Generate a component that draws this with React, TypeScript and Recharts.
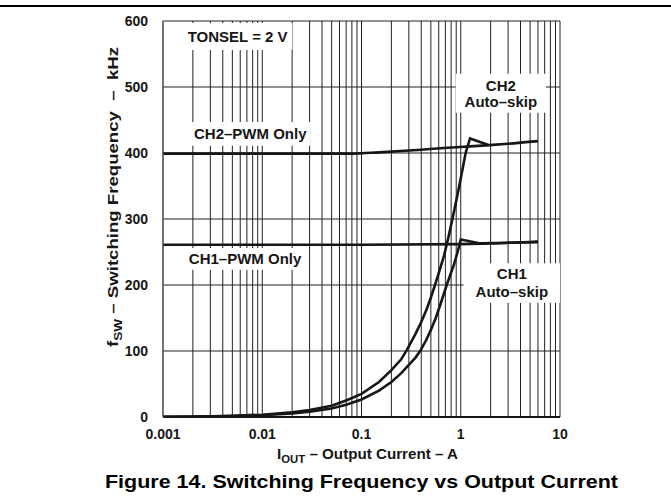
import { LineChart, Line, XAxis, YAxis, CartesianGrid, ReferenceArea } from "recharts";

// log-scale current (A) vs switching frequency (kHz)
const decadeTicks = [0.001, 0.01, 0.1, 1, 10];
const yTicks = [0, 100, 200, 300, 400, 500, 600];

const ch2PwmX = [0.001, 0.01, 0.08, 0.15, 0.4, 0.74, 1.24, 1.97, 3, 6];
const ch2PwmY = [399, 399, 399, 401, 405, 408, 410, 412, 414, 418];

const ch1PwmX = [0.001, 0.01, 0.1, 1, 1.97, 6];
const ch1PwmY = [261, 261, 261, 262, 263, 266];

const ch2SkipX = [0.001, 0.002, 0.003, 0.005, 0.01, 0.02, 0.03, 0.05, 0.07, 0.1, 0.15, 0.2, 0.25, 0.285, 0.35, 0.4, 0.45, 0.5, 0.55, 0.6, 0.68, 0.75, 0.824, 0.92, 1.02, 1.12, 1.24, 1.9];
const ch2SkipY = [0.4, 0.7, 1, 1.8, 3.5, 7, 10.5, 17, 25, 35, 53, 71, 87, 101, 126, 144, 162, 181, 200, 218, 245, 272, 300, 334, 368, 400, 422, 412];

const ch1SkipX = [0.001, 0.003, 0.01, 0.02, 0.03, 0.05, 0.07, 0.1, 0.15, 0.2, 0.25, 0.3, 0.35, 0.394, 0.45, 0.5, 0.56, 0.628, 0.722, 0.85, 0.93, 1.0, 1.58, 6];
const ch1SkipY = [0.3, 0.8, 2.6, 5.3, 8, 13, 18.5, 26.5, 40, 53, 66, 79, 90, 101, 117, 132, 150, 172, 200, 230, 250, 269, 263, 265];

// 1..9 in every decade for the log grid
const gridX: number[] = [];
[0.001, 0.01, 0.1, 1].forEach((d) => {
  for (let k = 1; k <= 9; k++) gridX.push(+(d * k).toPrecision(3));
});
gridX.push(10);

const zip = (xs: number[], ys: number[]) => xs.map((x, i) => ({ x, y: ys[i] }));

const font = "Arial, 'Liberation Sans', Helvetica, sans-serif";
const ink = "#161616";

function BoxText({ viewBox, lines, lh = 16 }: any) {
  const cx = viewBox.x + viewBox.width / 2;
  const cy = viewBox.y + viewBox.height / 2;
  const start = cy - ((lines.length - 1) * lh) / 2;
  return (
    <text x={cx} textAnchor="middle" fontFamily={font} fontWeight="bold" fontSize={15} fill={ink}>
      {lines.map((l: string, i: number) => (
        <tspan key={i} x={cx} y={start + i * lh} dy="0.36em">
          {l}
        </tspan>
      ))}
    </text>
  );
}

const tickStyle = { fontSize: 14, fontWeight: "bold", fill: ink, fontFamily: font };

const fmtX = (v: number) => (decadeTicks.some((d) => Math.abs(d - v) / d < 1e-6) ? String(v) : "");

export default function App() {
  return (
    <div style={{ position: "absolute", left: 0, top: 0, width: 671, height: 499, background: "#fff" }}>
      <div style={{ position: "absolute", left: 0, top: 5, width: 671, height: 2, background: "#000" }} />
      <LineChart width={671} height={499} margin={{ top: 21, right: 111, left: 103, bottom: 52 }}>
        <CartesianGrid stroke="#222" strokeWidth={1} />
        <XAxis
          type="number"
          dataKey="x"
          scale="log"
          domain={[0.001, 10]}
          ticks={gridX}
          interval={0}
          allowDataOverflow
          tickFormatter={fmtX}
          axisLine={{ stroke: ink, strokeWidth: 2 }}
          tickLine={false}
          tick={tickStyle}
          tickMargin={6}
          height={30}
        />
        <YAxis
          type="number"
          dataKey="y"
          domain={[0, 600]}
          ticks={yTicks}
          interval={0}
          axisLine={{ stroke: "#555" }}
          tickLine={false}
          tick={tickStyle}
          tickMargin={9}
          width={60}
        />
        <ReferenceArea x1={0.00159} x2={0.0201} y1={556} y2={597} fill="#fff" fillOpacity={1} stroke="none" label={<BoxText lines={["TONSEL = 2 V"]} />} />
        <ReferenceArea x1={0.00188} x2={0.0305} y1={411} y2={447} fill="#fff" fillOpacity={1} stroke="none" label={<BoxText lines={["CH2–PWM Only"]} />} />
        <ReferenceArea x1={0.00159} x2={0.0284} y1={223} y2={256} fill="#fff" fillOpacity={1} stroke="none" label={<BoxText lines={["CH1–PWM Only"]} />} />
        <ReferenceArea x1={0.89} x2={7.22} y1={461} y2={520} fill="#fff" fillOpacity={1} stroke="none" label={<BoxText lines={["CH2", "Auto–skip"]} lh={16} />} />
        <ReferenceArea x1={1.07} x2={10} y1={173} y2={233} fill="#fff" fillOpacity={1} stroke="none" label={<BoxText lines={["CH1", "Auto–skip"]} lh={18} />} />
        <Line data={zip(ch2PwmX, ch2PwmY)} dataKey="y" stroke={ink} strokeWidth={2.6} dot={false} type="monotone" isAnimationActive={false} />
        <Line data={zip(ch1PwmX, ch1PwmY)} dataKey="y" stroke={ink} strokeWidth={2.6} dot={false} type="monotone" isAnimationActive={false} />
        <Line data={zip(ch2SkipX, ch2SkipY)} dataKey="y" stroke={ink} strokeWidth={2.6} dot={false} type="linear" isAnimationActive={false} />
        <Line data={zip(ch1SkipX, ch1SkipY)} dataKey="y" stroke={ink} strokeWidth={2.6} dot={false} type="linear" isAnimationActive={false} />
      </LineChart>
      <svg width={671} height={499} style={{ position: "absolute", left: 0, top: 0, pointerEvents: "none" }}>
        <text
          x={118}
          y={197}
          transform="rotate(-90 118 197)"
          textAnchor="middle"
          fontFamily={font}
          fontWeight="bold"
          fontSize={15}
          fill={ink}
          textLength={300}
          lengthAdjust="spacingAndGlyphs"
        >
          <tspan>f</tspan>
          <tspan fontSize={11} dy={4}>SW</tspan>
          <tspan dy={-4}>{" – Switching Frequency \u00a0–\u00a0 kHz"}</tspan>
        </text>
        <text
          x={367.5}
          y={459}
          textAnchor="middle"
          fontFamily={font}
          fontWeight="bold"
          fontSize={14}
          fill={ink}
          textLength={181}
          lengthAdjust="spacingAndGlyphs"
        >
          <tspan>I</tspan>
          <tspan fontSize={10.5} dy={4}>OUT</tspan>
          <tspan dy={-4}>{" – Output Current – A"}</tspan>
        </text>
        <text
          x={361.5}
          y={488}
          textAnchor="middle"
          fontFamily={font}
          fontWeight="bold"
          fontSize={18}
          fill="#000"
          textLength={513}
          lengthAdjust="spacingAndGlyphs"
        >
          Figure 14. Switching Frequency vs Output Current
        </text>
      </svg>
    </div>
  );
}
